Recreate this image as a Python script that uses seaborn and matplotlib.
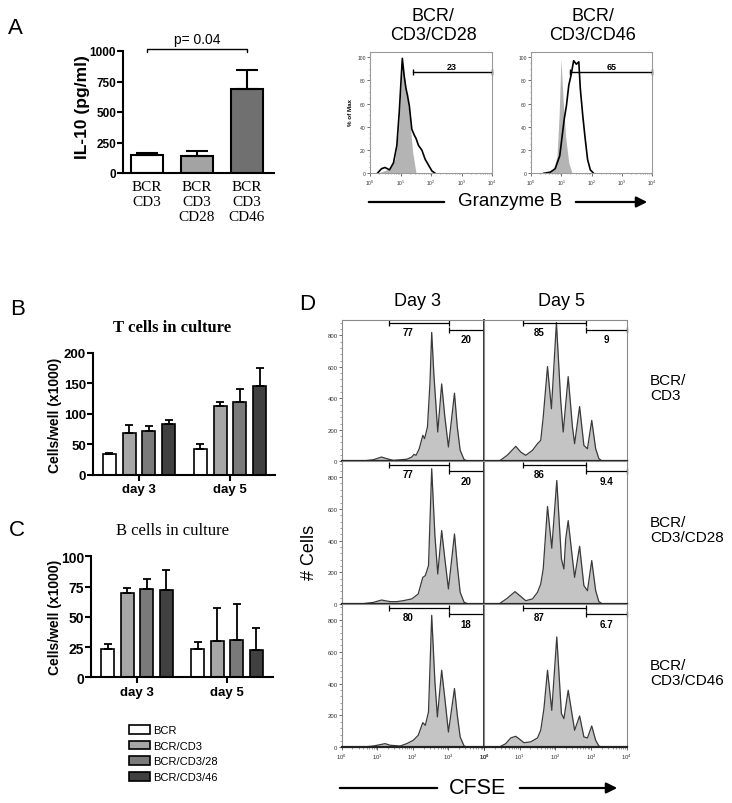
import numpy as np
import pandas as pd
import seaborn as sns
import matplotlib.pyplot as plt
import matplotlib.patches as mpatches
from matplotlib.container import BarContainer
from matplotlib.ticker import MultipleLocator, LogLocator, NullFormatter

# ---------------- data ----------------
# Panel A: IL-10
il10_groups = ["BCR\nCD3", "BCR\nCD3\nCD28", "BCR\nCD3\nCD46"]
il10_mean = [148, 138, 690]
il10_err = [14, 40, 155]
il10_colors = ["white", "#a3a3a3", "#707070"]

# Panel A: granzyme B histograms (x = log10 fluorescence, y = % of max)
gzb_cd28_iso_x = [0.24, 0.44, 0.66, 0.82, 0.93, 1.01, 1.07, 1.15, 1.23, 1.32, 1.40, 1.51]
gzb_cd28_iso_y = [0, 2, 4, 12, 35, 70, 94, 78, 64, 41, 18, 0]
gzb_cd28_x = [0.24, 0.38, 0.49, 0.64, 0.77, 0.88, 0.96, 1.06, 1.12, 1.18, 1.23, 1.29, 1.37,
              1.45, 1.51, 1.59, 1.70, 1.81, 1.92, 2.03, 2.14]
gzb_cd28_y = [0, 4, 5, 3, 9, 24, 53, 99, 84, 73, 67, 58, 38, 33, 30, 24, 20, 12, 7, 2, 0]
gzb_cd46_iso_x = [0.53, 0.75, 0.86, 0.93, 0.99, 1.06, 1.15, 1.25, 1.36]
gzb_cd46_iso_y = [0, 4, 15, 50, 99, 64, 30, 9, 0]
gzb_cd46_x = [0.42, 0.64, 0.80, 0.95, 1.02, 1.10, 1.17, 1.25, 1.32, 1.41, 1.50, 1.58, 1.63,
              1.71, 1.79, 1.87, 1.96, 2.07]
gzb_cd46_y = [0, 1, 4, 15, 30, 47, 58, 76, 84, 97, 94, 96, 73, 50, 30, 12, 3, 0]
gzb_gate_start = [1.40, 1.29]
gzb_gate_label = ["23", "65"]

# Panels B / C: cells in culture
days = ["day 3", "day 5"]
conditions = ["BCR", "BCR/CD3", "BCR/CD3/28", "BCR/CD3/46"]
bar_colors = ["white", "#a6a6a6", "#7a7a7a", "#404040"]
t_day3 = [34, 68, 72, 83]
t_day3_err = [1, 14, 8, 6]
t_day5 = [42, 112, 120, 145]
t_day5_err = [8, 8, 20, 31]
b_day3 = [23.5, 69.5, 73, 72.5]
b_day3_err = [4, 4.5, 8, 16.5]
b_day5 = [23, 30, 30.5, 22.5]
b_day5_err = [6, 27.5, 30, 18.5]

# Panel D: CFSE histograms (x = log10 CFSE, y = # cells)
cfse_d3_cd3_x = [0.52, 0.89, 1.12, 1.26, 1.45, 1.83, 1.97, 2.03, 2.09, 2.18, 2.28, 2.33, 2.41,
                 2.48, 2.53, 2.59, 2.70, 2.81, 2.90, 3.00, 3.17, 3.25, 3.33, 3.44, 3.56]
cfse_d3_cd3_y = [0, 10, 27, 17, 6, 13, 27, 44, 38, 80, 165, 144, 217, 492, 819, 555, 186, 492,
                 281, 91, 433, 217, 70, 11, 0]
cfse_d5_cd3_x = [0.42, 0.65, 0.89, 1.03, 1.17, 1.36, 1.50, 1.59, 1.66, 1.78, 1.89, 2.03, 2.15,
                 2.22, 2.36, 2.48, 2.54, 2.68, 2.80, 2.90, 3.02, 3.13, 3.22, 3.32]
cfse_d5_cd3_y = [0, 38, 95, 59, 38, 70, 112, 133, 281, 602, 334, 882, 386, 186, 538, 217, 112,
                 348, 101, 80, 260, 80, 17, 0]
cfse_d3_cd28_x = [0.52, 0.89, 1.12, 1.36, 1.55, 1.73, 1.97, 2.15, 2.28, 2.35, 2.44, 2.53, 2.62,
                  2.70, 2.81, 2.90, 3.00, 3.17, 3.25, 3.33, 3.44, 3.56]
cfse_d3_cd28_y = [0, 10, 25, 15, 15, 21, 32, 63, 168, 179, 242, 853, 432, 189, 463, 284, 95,
                  442, 242, 74, 11, 0]
cfse_d5_cd28_x = [0.42, 0.65, 0.87, 0.98, 1.17, 1.36, 1.50, 1.59, 1.66, 1.78, 1.90, 2.04, 2.17,
                  2.24, 2.29, 2.36, 2.48, 2.54, 2.68, 2.80, 2.90, 3.02, 3.13, 3.22, 3.32]
cfse_d5_cd28_y = [0, 36, 78, 57, 21, 32, 74, 126, 221, 615, 352, 779, 284, 221, 410, 526, 284,
                  168, 364, 116, 84, 274, 84, 15, 0]
cfse_d3_cd46_x = [0.52, 0.89, 1.22, 1.36, 1.64, 1.83, 2.01, 2.15, 2.28, 2.35, 2.44, 2.53, 2.62,
                  2.69, 2.81, 2.90, 3.00, 3.17, 3.25, 3.33, 3.44, 3.56]
cfse_d3_cd46_y = [0, 8, 23, 13, 8, 23, 44, 75, 155, 138, 222, 829, 410, 191, 484, 306, 96,
                  369, 201, 65, 8, 0]
cfse_d5_cd46_x = [0.42, 0.61, 0.75, 0.89, 0.98, 1.12, 1.31, 1.50, 1.59, 1.68, 1.78, 1.90, 2.04,
                  2.17, 2.24, 2.36, 2.48, 2.54, 2.68, 2.80, 2.90, 3.02, 3.13, 3.22, 3.32]
cfse_d5_cd46_y = [0, 23, 59, 69, 54, 29, 34, 59, 107, 243, 484, 232, 693, 212, 180, 358, 191,
                  107, 197, 65, 59, 134, 44, 8, 0]
cfse_gate_lo_label = ["77", "85", "77", "86", "80", "87"]
cfse_gate_hi_label = ["20", "9", "20", "9.4", "18", "6.7"]
cfse_row_labels = ["BCR/\nCD3", "BCR/\nCD3/CD28", "BCR/\nCD3/CD46"]

# ---------------- style ----------------
sns.set_theme(style="white")
plt.rcParams["font.family"] = ["Liberation Sans", "DejaVu Sans"]
for k in ["text.color", "axes.labelcolor", "xtick.color", "ytick.color", "axes.edgecolor"]:
    plt.rcParams[k] = "black"

W, H = 732, 804
fig = plt.figure(figsize=(W / 100, H / 100), dpi=100)


def add_ax(x0, y0, x1, y1):
    return fig.add_axes([x0 / W, 1 - y1 / H, (x1 - x0) / W, (y1 - y0) / H])


def ftext(x, y, s, **kw):
    kw.setdefault("ha", "center")
    kw.setdefault("va", "center")
    fig.text(x / W, 1 - y / H, s, **kw)


def arrow_line(x0, x1, y, head=False):
    style = "-|>" if head else "-"
    fig.add_artist(mpatches.FancyArrowPatch((x0 / W, 1 - y / H), (x1 / W, 1 - y / H),
                                            arrowstyle=style, mutation_scale=16, lw=1.6,
                                            color="black", transform=fig.transFigure))


def axis_style(ax):
    sns.despine(ax=ax)
    for s in ["left", "bottom"]:
        ax.spines[s].set_linewidth(1.5)
    ax.tick_params(axis="both", which="major", length=4, width=1.5, direction="out",
                   bottom=True, left=True, pad=1)
    ax.set_xlabel("")
    ax.set_ylabel("")


# ---------------- Panel A: IL-10 bars ----------------
axA = add_ax(123, 52, 274, 174)
sns.barplot(x=il10_groups, y=il10_mean, hue=il10_groups, palette=il10_colors, legend=False,
            width=0.64, edgecolor="black", linewidth=1.5, errorbar=None, ax=axA)
axA.errorbar(np.arange(len(il10_mean)), il10_mean, yerr=[np.zeros(len(il10_err)), il10_err],
             fmt="none", ecolor="black", elinewidth=1.5, capsize=8, capthick=1.5, zorder=3)
axis_style(axA)
axA.set_xlim(-0.48, 2.54)
axA.set_ylim(0, 1000)
axA.set_yticks([0, 250, 500, 750, 1000])
axA.tick_params(axis="x", length=0, pad=5)
for lab in axA.get_yticklabels():
    lab.set_fontweight("bold")
    lab.set_fontsize(8.5)
for lab in axA.get_xticklabels():
    lab.set_fontfamily("Liberation Serif")
    lab.set_fontsize(11)
    lab.set_linespacing(1.2)
    lab.set_va("top")
axA.plot([0, 0, 2, 2], [992, 1016, 1016, 992], color="black", lw=1, clip_on=False)
axA.text(1, 1100, "p= 0.04", ha="center", va="center", fontsize=10)
ftext(83, 107, "IL-10 (pg/ml)", rotation=90, fontsize=12.5, fontweight="bold")
ftext(15, 28, "A", fontsize=16)

# ---------------- Panel A: granzyme B ----------------
gzb_sets = [(gzb_cd28_iso_x, gzb_cd28_iso_y, gzb_cd28_x, gzb_cd28_y),
            (gzb_cd46_iso_x, gzb_cd46_iso_y, gzb_cd46_x, gzb_cd46_y)]
gzb_boxes = [(370, 53, 492, 174.3), (531, 53, 652, 174.3)]
for i, (ix, iy, sx, sy) in enumerate(gzb_sets):
    ax = add_ax(*gzb_boxes[i])
    ax.set_xscale("log")
    ax.fill_between(np.power(10.0, ix), iy, color="#b4b4b4", lw=0)
    sns.lineplot(x=np.power(10.0, sx), y=sy, color="black", lw=1.2, estimator=None, ax=ax)
    ax.set_xlim(1, 1e4)
    ax.set_ylim(0, 104.5)
    ax.set_xlabel("")
    ax.set_ylabel("")
    for s in ax.spines.values():
        s.set_color("#9a9a9a")
        s.set_linewidth(0.8)
    ax.set_yticks([0, 20, 40, 60, 80, 100])
    ax.yaxis.set_minor_locator(MultipleLocator(5))
    ax.xaxis.set_major_locator(LogLocator(base=10, numticks=10))
    ax.xaxis.set_minor_locator(LogLocator(base=10, subs=np.arange(2, 10), numticks=10))
    ax.xaxis.set_minor_formatter(NullFormatter())
    ax.tick_params(axis="both", which="major", labelsize=3.6, length=2, width=0.5,
                   direction="out", bottom=True, left=True, pad=1, colors="#333333")
    ax.tick_params(axis="both", which="minor", length=1, width=0.4, direction="out",
                   bottom=True, left=True, colors="#555555")
    ax.plot([10 ** gzb_gate_start[i], 1e4], [87, 87], color="black", lw=1, marker="|",
            ms=5, mew=1, clip_on=False)
    ax.text(10 ** 2.68, 92, gzb_gate_label[i], ha="center", va="center", fontsize=6.5,
            fontweight="bold")
ftext(351, 113, "% of Max", rotation=90, fontsize=4.5, fontweight="bold")
ftext(433, 26, "BCR/\nCD3/CD28", fontsize=13, linespacing=1.1)
ftext(593, 26, "BCR/\nCD3/CD46", fontsize=13, linespacing=1.1)
ftext(510, 202, "Granzyme B", fontsize=13.5)
arrow_line(366, 447, 203)
arrow_line(573, 650, 203, head=True)


# ---------------- Panels B / C ----------------
def culture_panel(box, d3, d3_err, d5, d5_err, ymax, ystep, xlim, tick_fs):
    ax = add_ax(*box)
    df = pd.DataFrame({"day": [days[0]] * len(d3) + [days[1]] * len(d5),
                       "cond": conditions * 2,
                       "value": d3 + d5})
    sns.barplot(data=df, x="day", y="value", hue="cond", hue_order=conditions,
                palette=bar_colors, width=0.87, gap=0.34, edgecolor="black", linewidth=1.2,
                errorbar=None, ax=ax)
    bar_groups = [cont for cont in ax.containers if isinstance(cont, BarContainer)]
    for i, cont in enumerate(bar_groups):
        xs = [p.get_x() + p.get_width() / 2 for p in cont]
        hs = [p.get_height() for p in cont]
        ax.errorbar(xs, hs, yerr=[[0, 0], [d3_err[i], d5_err[i]]], fmt="none",
                    ecolor="black", elinewidth=1.3, capsize=3, capthick=1.3, zorder=3)
    axis_style(ax)
    ax.set_xlim(*xlim)
    ax.set_ylim(0, ymax)
    ax.set_yticks(np.arange(0, ymax + 1, ystep))
    for lab in ax.get_yticklabels() + ax.get_xticklabels():
        lab.set_fontweight("bold")
    ax.tick_params(axis="y", labelsize=tick_fs)
    ax.tick_params(axis="x", labelsize=9.5, pad=2)
    return ax


axB = culture_panel((93, 354, 275, 475.5), t_day3, t_day3_err, t_day5, t_day5_err,
                    200, 50, (-0.505, 1.495), 9.5)
axB.get_legend().remove()
ftext(18, 310, "B", fontsize=16)
ftext(172, 328, "T cells in culture", fontsize=12, fontweight="bold",
      fontfamily="Liberation Serif")
ftext(55, 415, "Cells/well (x1000)", rotation=90, fontsize=10, fontweight="bold")

axC = culture_panel((91, 557.3, 273, 678.3), b_day3, b_day3_err, b_day5, b_day5_err,
                    100, 25, (-0.51, 1.51), 10)
handles, labels = axC.get_legend_handles_labels()
axC.get_legend().remove()
fig.legend(handles, labels, loc="upper left", bbox_to_anchor=(129 / W, 1 - 726 / H),
           frameon=False, fontsize=8, handlelength=1.9, handleheight=0.85,
           labelspacing=0.48, handletextpad=0.25, borderpad=0, borderaxespad=0)
ftext(17, 530, "C", fontsize=16)
ftext(172, 531, "B cells in culture", fontsize=12, fontfamily="Liberation Serif")
ftext(55, 617, "Cells/well (x1000)", rotation=90, fontsize=10, fontweight="bold")

# ---------------- Panel D: CFSE ----------------
cfse_curves = [(cfse_d3_cd3_x, cfse_d3_cd3_y), (cfse_d5_cd3_x, cfse_d5_cd3_y),
               (cfse_d3_cd28_x, cfse_d3_cd28_y), (cfse_d5_cd28_x, cfse_d5_cd28_y),
               (cfse_d3_cd46_x, cfse_d3_cd46_y), (cfse_d5_cd46_x, cfse_d5_cd46_y)]
col_edges = [(341.7, 484), (484, 626.7)]
row_edges = [(320.7, 462.3), (462.3, 605), (605, 748.3)]
gate_lo = [(1.34, 3.03), (1.09, 2.85)]
gate_hi = [(3.03, 3.99), (2.85, 4.0)]
for k, (cx, cy) in enumerate(cfse_curves):
    r, c = divmod(k, 2)
    ax = add_ax(col_edges[c][0], row_edges[r][0], col_edges[c][1], row_edges[r][1])
    ax.set_xscale("log")
    ax.fill_between(np.power(10.0, cx), cy, color="#c4c4c4", lw=0)
    sns.lineplot(x=np.power(10.0, cx), y=cy, color="#3a3a3a", lw=0.9, estimator=None, ax=ax)
    ax.set_xlim(1, 1e4)
    ax.set_ylim(0, 900)
    ax.set_xlabel("")
    ax.set_ylabel("")
    for s in ax.spines.values():
        s.set_color("#8a8a8a")
        s.set_linewidth(0.8)
    ax.spines["bottom"].set_color("#222222")
    ax.spines["bottom"].set_linewidth(1.6)
    if c == 0:
        ax.spines["right"].set_color("#333333")
        ax.spines["right"].set_linewidth(1.4)
    ax.set_yticks([0, 200, 400, 600, 800])
    ax.yaxis.set_minor_locator(MultipleLocator(40))
    ax.xaxis.set_major_locator(LogLocator(base=10, numticks=10))
    ax.xaxis.set_minor_locator(LogLocator(base=10, subs=np.arange(2, 10), numticks=10))
    ax.xaxis.set_minor_formatter(NullFormatter())
    ax.tick_params(axis="both", which="major", labelsize=4.3, length=2, width=0.5,
                   direction="out", pad=1, colors="#333333",
                   left=(c == 0), labelleft=(c == 0), bottom=(r == 2), labelbottom=(r == 2))
    ax.tick_params(axis="both", which="minor", length=1.2, width=0.4, direction="out",
                   colors="#555555", left=(c == 0), bottom=(r == 2))
    lo, hi = gate_lo[c], gate_hi[c]
    ax.plot([10 ** lo[0], 10 ** lo[1]], [876, 876], color="black", lw=0.9, marker="|",
            ms=4, mew=0.9, clip_on=False)
    ax.plot([10 ** hi[0], 10 ** hi[1]], [836, 836], color="black", lw=0.9, marker="|",
            ms=4, mew=0.9, clip_on=False)
    ax.text(10 ** (1.87 if c == 0 else 1.54), 820, cfse_gate_lo_label[k], ha="center",
            va="center", fontsize=7, fontweight="bold")
    ax.text(10 ** (3.49 if c == 0 else 3.42), 775, cfse_gate_hi_label[k], ha="center",
            va="center", fontsize=7, fontweight="bold")
    if c == 1:
        ftext(650, (row_edges[r][0] + row_edges[r][1]) / 2 - 3, cfse_row_labels[r],
              ha="left", fontsize=11, linespacing=1.15)

ftext(307, 305, "D", fontsize=16)
ftext(418, 302, "Day 3", fontsize=13)
ftext(562, 302, "Day 5", fontsize=13)
ftext(309, 552, "# Cells", rotation=90, fontsize=13)
ftext(478, 789, "CFSE", fontsize=15.5)
arrow_line(337, 440, 789)
arrow_line(517, 620, 789, head=True)

fig.savefig("out.png", dpi=100)
